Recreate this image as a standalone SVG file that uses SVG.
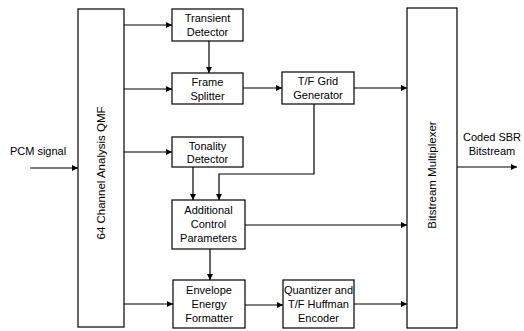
<svg xmlns="http://www.w3.org/2000/svg" width="524" height="331" viewBox="0 0 524 331">
<defs>
<marker id="ah" viewBox="0 0 10 10" refX="10" refY="5" markerWidth="8" markerHeight="6" markerUnits="userSpaceOnUse" orient="auto">
<path d="M0,0 L10,5 L0,10 z" fill="#000"/>
</marker>
<style>
.box{fill:#fff;stroke:#000;stroke-width:1.2}
.t{font-family:"Liberation Sans",Arial,sans-serif;font-size:11px;fill:#000;text-anchor:middle}
.r{font-size:11.5px}
.c{fill:none;stroke:#000;stroke-width:1.2}
.a{marker-end:url(#ah)}
</style>
</defs>
<rect width="524" height="331" fill="#fff"/>
<g id="qmf"><rect class="box" x="78" y="9" width="46" height="318"/><text class="t r" transform="translate(105,173) rotate(-90)">64 Channel Analysis QMF</text></g>
<g id="transient"><rect class="box" x="172" y="9" width="71" height="32"/><text class="t" x="207.5" y="22">Transient</text><text class="t" x="207.5" y="36">Detector</text></g>
<g id="frame"><rect class="box" x="172" y="73" width="71" height="31"/><text class="t" x="207.5" y="86">Frame</text><text class="t" x="207.5" y="100">Splitter</text></g>
<g id="tfgrid"><rect class="box" x="282" y="72" width="72" height="32"/><text class="t" x="318" y="85">T/F Grid</text><text class="t" x="318" y="99">Generator</text></g>
<g id="tonality"><rect class="box" x="172" y="137" width="71" height="30"/><text class="t" x="207.5" y="150">Tonality</text><text class="t" x="207.5" y="163">Detector</text></g>
<g id="acp"><rect class="box" x="172" y="200" width="73" height="49"/><text class="t" x="208.5" y="214">Additional</text><text class="t" x="208.5" y="228">Control</text><text class="t" x="208.5" y="242">Parameters</text></g>
<g id="envelope"><rect class="box" x="173" y="280" width="72" height="48"/><text class="t" x="209" y="294">Envelope</text><text class="t" x="209" y="308">Energy</text><text class="t" x="209" y="322">Formatter</text></g>
<g id="quant"><rect class="box" x="283" y="280" width="71" height="48"/><text class="t" x="318.5" y="294">Quantizer and</text><text class="t" x="318.5" y="308">T/F Huffman</text><text class="t" x="318.5" y="322">Encoder</text></g>
<g id="mux"><rect class="box" x="407" y="8" width="50" height="320"/><text class="t r" transform="translate(436,175) rotate(-90)">Bitstream Multiplexer</text></g>
<g id="labels"><text class="t" x="38" y="155">PCM signal</text><text class="t" x="492" y="141">Coded SBR</text><text class="t" x="492" y="155">Bitstream</text></g>
<g id="connectors">
<path class="c a" d="M30,168 H78"/>
<path class="c a" d="M124,25 H172"/>
<path class="c a" d="M124,89 H172"/>
<path class="c a" d="M124,152 H172"/>
<path class="c a" d="M124,304 H173"/>
<path class="c a" d="M209,41 V73"/>
<path class="c a" d="M243,88 H282"/>
<path class="c a" d="M354,88 H407"/>
<path class="c a" d="M193,167 V200"/>
<path class="c a" d="M314,104 V174 H219 V200"/>
<path class="c a" d="M245,225 H407"/>
<path class="c a" d="M210,249 V280"/>
<path class="c a" d="M245,305 H283"/>
<path class="c a" d="M354,304 H407"/>
<path class="c a" d="M457,167 H517"/>
</g>
</svg>
